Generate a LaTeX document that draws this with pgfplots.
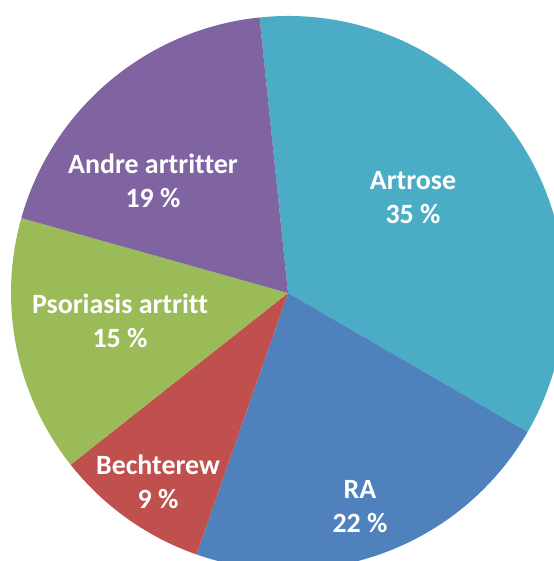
\documentclass[border=0pt]{standalone}
\usepackage{fontspec}
\setmainfont{Carlito}[Ligatures={NoCommon}]
\usepackage{pgfplots}
\usepackage{pgfplotstable}
\pgfplotsset{compat=1.18}
\definecolor{cArtrose}{HTML}{4BACC6}
\definecolor{cRA}{HTML}{4F81BD}
\definecolor{cBech}{HTML}{C0504D}
\definecolor{cPso}{HTML}{9BBB59}
\definecolor{cAndre}{HTML}{8064A2}
\pgfplotstableread[col sep=comma]{
label,value,col,lx,ly
Artrose,35,cArtrose,413,363
RA,22,cRA,360,54
Bechterew,9,cBech,158,79
Psoriasis artritt,15,cPso,120,240
Andre artritter,19,cAndre,153,380
}\piedata
\begin{document}
\begin{tikzpicture}
\begin{axis}[x=1bp,y=1bp,xmin=0,xmax=554,ymin=0,ymax=561,
  disabledatascaling, axis line style={draw=none}, ticks=none, clip=true]
\addplot[draw=none] coordinates {(0,0)};
\pgfplotsextra{
  \pgfplotstablegetrowsof{\piedata}
  \pgfmathtruncatemacro\lastrow{\pgfplotsretval-1}
  \gdef\cum{-5.9}
  \foreach \i in {0,...,\lastrow}{
    \pgfplotstablegetelem{\i}{value}\of\piedata \let\val=\pgfplotsretval
    \pgfplotstablegetelem{\i}{col}\of\piedata \let\col=\pgfplotsretval
    \pgfmathsetmacro\aone{90-\cum}
    \pgfmathsetmacro\atwo{90-\cum-3.6*\val}
    \fill[\col] (axis cs:288,268) -- ++(\aone:277bp) arc[start angle=\aone, end angle=\atwo, radius=277bp] -- cycle;
    \pgfmathsetmacro\newcum{\cum+3.6*\val}
    \xdef\cum{\newcum}
  }
  \foreach \i in {0,...,\lastrow}{
    \pgfplotstablegetelem{\i}{value}\of\piedata \let\val=\pgfplotsretval
    \pgfplotstablegetelem{\i}{label}\of\piedata \let\lab=\pgfplotsretval
    \pgfplotstablegetelem{\i}{lx}\of\piedata \let\lx=\pgfplotsretval
    \pgfplotstablegetelem{\i}{ly}\of\piedata \let\ly=\pgfplotsretval
    \node[text=white, font=\bfseries\fontsize{28}{34}\selectfont, align=center] at (axis cs:\lx,\ly) {\lab\\\val\ \%};
  }
}
\end{axis}
\end{tikzpicture}
\end{document}
